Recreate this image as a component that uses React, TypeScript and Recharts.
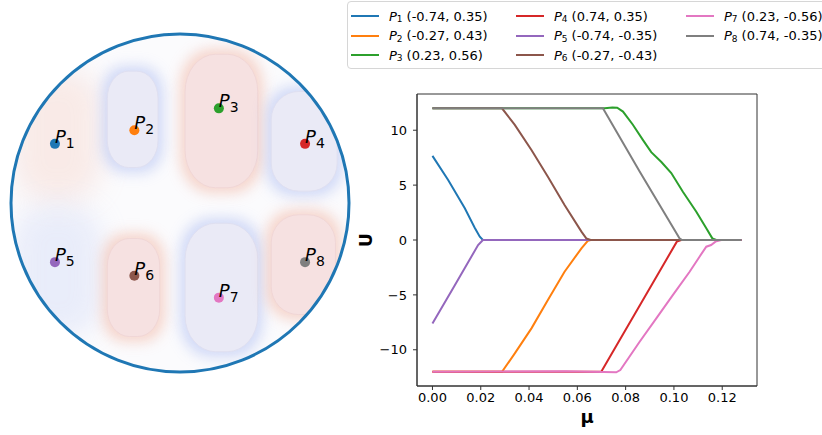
import React from 'react';
import {
  ScatterChart,
  Scatter,
  LineChart,
  Line,
  XAxis,
  YAxis,
  ReferenceArea,
  Legend,
} from 'recharts';

const FONT = '"DejaVu Sans", sans-serif';

// probe points on the unit disk
const POINT_IDS = ['1', '2', '3', '4', '5', '6', '7', '8'];
const POINT_X = [-0.74, -0.27, 0.23, 0.74, -0.74, -0.27, 0.23, 0.74];
const POINT_Y = [0.35, 0.43, 0.56, 0.35, -0.35, -0.43, -0.56, -0.35];
const COLORS = ['#1f77b4', '#ff7f0e', '#2ca02c', '#d62728', '#9467bd', '#8c564b', '#e377c2', '#7f7f7f'];

// field cells in disk coords: [x1, x2, y1, y2, sign, hasCore]
const CELLS: [number, number, number, number, number, boolean][] = [
  [-0.95, -0.5, 0.05, 0.75, 1, false],
  [-0.95, -0.5, -0.75, -0.05, -1, false],
  [-0.43, -0.13, 0.21, 0.78, -1, true],
  [0.03, 0.46, 0.09, 0.88, 1, true],
  [0.54, 0.93, 0.07, 0.66, -1, true],
  [-0.43, -0.12, -0.79, -0.21, 1, true],
  [0.03, 0.46, -0.88, -0.12, -1, true],
  [0.54, 0.92, -0.66, -0.07, 1, true],
];

// U(mu) per probe point
const CURVE_P1: [number, number][] = [[0, 7.66], [0.0065, 5.47], [0.0134, 2.89], [0.0175, 1.12], [0.0196, 0.3], [0.0209, 0], [0.128, 0]];
const CURVE_P2: [number, number][] = [[0, -12], [0.0288, -12], [0.0341, -10.33], [0.041, -8.05], [0.0478, -5.47], [0.0547, -2.89], [0.0617, -0.76], [0.0644, -0.06], [0.0655, 0], [0.128, 0]];
const CURVE_P3: [number, number][] = [[0, 12], [0.0713, 12], [0.0745, 12.08], [0.0765, 12.05], [0.0789, 11.7], [0.083, 10.5], [0.0872, 9.1], [0.0906, 8.0], [0.0948, 7.1], [0.0989, 6.1], [0.1037, 4.4], [0.1092, 2.6], [0.1134, 1.07], [0.1159, 0.15], [0.1175, 0], [0.128, 0]];
const CURVE_P4: [number, number][] = [[0, -12], [0.0699, -12], [0.1012, -0.15], [0.103, 0], [0.128, 0]];
const CURVE_P5: [number, number][] = [[0, -7.6], [0.0092, -4.15], [0.0189, -0.46], [0.0209, 0], [0.128, 0]];
const CURVE_P6: [number, number][] = [[0, 12], [0.0288, 12], [0.0341, 10.48], [0.041, 8.2], [0.0478, 5.77], [0.0547, 3.19], [0.0617, 0.76], [0.0637, 0.15], [0.0655, 0], [0.128, 0]];
const CURVE_P7: [number, number][] = [[0, -12], [0.055, -11.95], [0.0761, -12.05], [0.0778, -11.85], [0.0858, -9.27], [0.0927, -7.14], [0.0996, -5.0], [0.1065, -2.89], [0.1106, -1.52], [0.1134, -0.61], [0.1154, -0.46], [0.1172, -0.15], [0.1196, 0], [0.128, 0]];
const CURVE_P8: [number, number][] = [[0, 12], [0.0706, 12], [0.0858, 6.25], [0.1023, 0.15], [0.1034, 0], [0.128, 0]];

const CURVES = [CURVE_P1, CURVE_P2, CURVE_P3, CURVE_P4, CURVE_P5, CURVE_P6, CURVE_P7, CURVE_P8];

const X_TICKS = [0, 0.02, 0.04, 0.06, 0.08, 0.1, 0.12];
const Y_TICKS = [-10, -5, 0, 5, 10];
const X_DOMAIN = [-0.0064, 0.1344];
const Y_DOMAIN = [-13.3, 13.3];

const coordLabel = (i: number) => `(${POINT_X[i].toFixed(2)}, ${POINT_Y[i].toFixed(2)})`;

const points = POINT_IDS.map((id, i) => ({ id, x: POINT_X[i], y: POINT_Y[i], color: COLORS[i] }));
const series = CURVES.map((c, i) => ({
  name: `P${POINT_IDS[i]}`,
  color: COLORS[i],
  data: c.map(([mu, u]) => ({ mu, u })),
}));

const DiskBase = ({ x, y, width, height }: any) => (
  <g>
    <defs>
      <clipPath id="disk-clip">
        <ellipse cx={x + width / 2} cy={y + height / 2} rx={width / 2} ry={height / 2} />
      </clipPath>
      <filter id="soft" x="-50%" y="-50%" width="200%" height="200%">
        <feGaussianBlur stdDeviation="7" />
      </filter>
      <filter id="softer" x="-50%" y="-50%" width="200%" height="200%">
        <feGaussianBlur stdDeviation="14" />
      </filter>
    </defs>
    <ellipse cx={x + width / 2} cy={y + height / 2} rx={width / 2} ry={height / 2} fill="#fbfbfd" />
  </g>
);

const CellShape = ({ x, y, width, height, sign, core }: any) => {
  const hot = sign > 0;
  const rx = width * 0.42;
  const ry = height * 0.28;
  return (
    <g clipPath="url(#disk-clip)">
      <rect
        x={x - 5}
        y={y - 5}
        width={width + 10}
        height={height + 10}
        rx={rx}
        ry={ry}
        fill={hot ? '#f2b9a8' : '#b3c1f2'}
        opacity={core ? 0.6 : 0.25}
        filter={core ? 'url(#soft)' : 'url(#softer)'}
      />
      {core && (
        <rect
          x={x}
          y={y}
          width={width}
          height={height}
          rx={rx}
          ry={ry}
          fill={hot ? '#f6e1e1' : '#eaeaf6'}
          stroke={hot ? '#f0d6d6' : '#dfdff0'}
          strokeWidth={1}
        />
      )}
    </g>
  );
};

const DiskOutline = ({ x, y, width, height }: any) => (
  <ellipse cx={x + width / 2} cy={y + height / 2} rx={width / 2} ry={height / 2} fill="none" stroke="#1f77b4" strokeWidth={3} />
);

const PointMark = ({ cx, cy, payload }: any) => (
  <g>
    <circle cx={cx} cy={cy} r={5} fill={payload.color} />
    <text x={cx} y={cy - 1} fontFamily={FONT} fill="#000">
      <tspan fontSize={18} fontStyle="italic">P</tspan>
      <tspan fontSize={14} dx={0} dy={5}>{payload.id}</tspan>
    </text>
  </g>
);

const LEGEND_COL_X = [3, 168, 338];

const LegendBox = ({ payload }: any) => (
  <div
    style={{
      width: 500,
      height: 66,
      border: '1px solid #d6d6d6',
      borderRadius: 4,
      background: 'rgba(255,255,255,0.85)',
      position: 'relative',
      fontFamily: FONT,
      fontSize: 13,
      color: '#000',
    }}
  >
    {(payload || []).map((entry: any) => {
      const i = series.findIndex((s) => s.name === entry.value);
      if (i < 0) return null;
      const col = Math.floor(i / 3);
      const row = i % 3;
      return (
        <div
          key={entry.value}
          style={{ position: 'absolute', left: LEGEND_COL_X[col], top: 4 + row * 19.5, height: 20, display: 'flex', alignItems: 'center', whiteSpace: 'nowrap' }}
        >
          <span style={{ display: 'inline-block', width: 28, height: 2, background: entry.color, marginRight: 10 }} />
          <span style={{ fontStyle: 'italic' }}>P</span>
          <span style={{ fontSize: 9, position: 'relative', top: 3, marginRight: 4 }}>{POINT_IDS[i]}</span>
          <span>{coordLabel(i)}</span>
        </div>
      );
    })}
  </div>
);

const tickStyle = { fontSize: 13, fill: '#000', fontFamily: FONT };

export default function App() {
  return (
    <div style={{ position: 'absolute', left: 0, top: 0, width: 822, height: 435, overflow: 'hidden', background: '#fff' }}>
      <div style={{ position: 'absolute', left: 0, top: 0 }}>
        <ScatterChart width={360} height={435} margin={{ top: 34, right: 11, bottom: 63, left: 11 }}>
          <XAxis type="number" dataKey="x" domain={[-1, 1]} hide />
          <YAxis type="number" dataKey="y" domain={[-1, 1]} hide />
          <ReferenceArea x1={-1} x2={1} y1={-1} y2={1} ifOverflow="visible" shape={(p: any) => <DiskBase {...p} />} />
          {CELLS.map(([x1, x2, y1, y2, sign, core], i) => (
            <ReferenceArea
              key={i}
              x1={x1}
              x2={x2}
              y1={y1}
              y2={y2}
              ifOverflow="visible"
              shape={(p: any) => <CellShape {...p} sign={sign} core={core} />}
            />
          ))}
          <ReferenceArea x1={-1} x2={1} y1={-1} y2={1} ifOverflow="visible" shape={(p: any) => <DiskOutline {...p} />} />
          <Scatter data={points} isAnimationActive={false} shape={(p: any) => <PointMark {...p} />} />
        </ScatterChart>
      </div>
      <div style={{ position: 'absolute', left: 345, top: 0 }}>
        <LineChart width={477} height={435} margin={{ top: 94, right: 65, bottom: 19, left: 27 }}>
          <XAxis
            type="number"
            dataKey="mu"
            domain={X_DOMAIN}
            ticks={X_TICKS}
            allowDataOverflow
            tickFormatter={(v: number) => v.toFixed(2)}
            tick={tickStyle}
            tickSize={4}
            tickMargin={3}
            stroke="#333"
            height={30}
            label={({ viewBox }: any) => (
              <text x={viewBox.x + viewBox.width / 2} y={viewBox.y + 37} textAnchor="middle" fontFamily={FONT} fontSize={18} fontWeight="bold" fill="#000">
                μ
              </text>
            )}
          />
          <YAxis
            type="number"
            domain={Y_DOMAIN}
            ticks={Y_TICKS}
            allowDataOverflow
            tickFormatter={(v: number) => (v < 0 ? '\u2212' + Math.abs(v) : String(v))}
            tick={tickStyle}
            tickSize={4}
            tickMargin={6}
            stroke="#333"
            width={45}
            label={({ viewBox }: any) => {
              const cx = viewBox.x;
              const cy = viewBox.y + viewBox.height / 2;
              return (
                <text x={cx} y={cy} transform={`rotate(-90, ${cx}, ${cy})`} textAnchor="middle" fontFamily={FONT} fontSize={17} fontWeight="bold" fill="#000">
                  U
                </text>
              );
            }}
          />
          <ReferenceArea x1={X_DOMAIN[0]} x2={X_DOMAIN[1]} y1={Y_DOMAIN[0]} y2={Y_DOMAIN[1]} fill="none" stroke="#333" strokeWidth={1} ifOverflow="visible" />
          {series.map((s) => (
            <Line
              key={s.name}
              data={s.data}
              dataKey="u"
              name={s.name}
              type="linear"
              stroke={s.color}
              strokeWidth={2}
              dot={false}
              isAnimationActive={false}
            />
          ))}
          <Legend
            layout="vertical"
            align="center"
            verticalAlign="middle"
            content={(p: any) => <LegendBox {...p} />}
            wrapperStyle={{ top: 1, left: 2, width: 500, height: 68 }}
          />
        </LineChart>
      </div>
    </div>
  );
}
